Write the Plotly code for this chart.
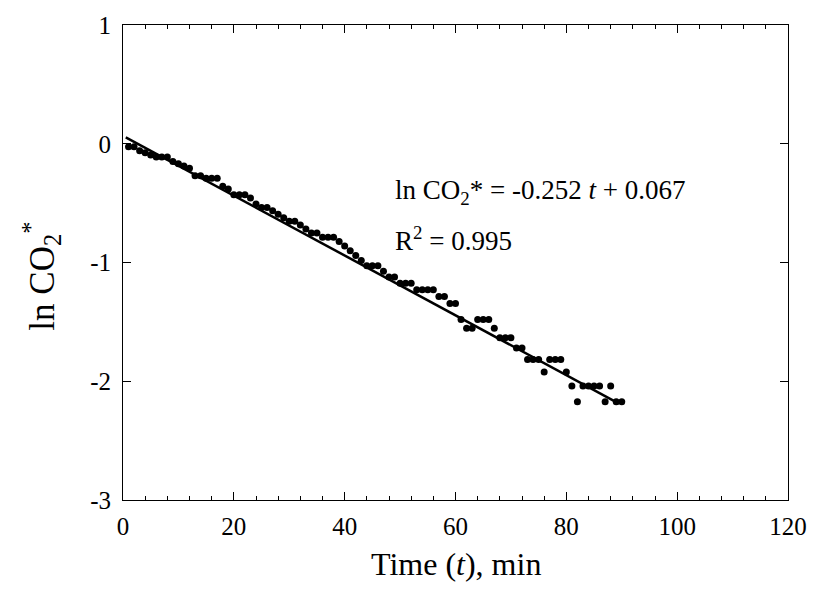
import plotly.graph_objects as go

# ---- data ----
time_min = list(range(1, 91))
ln_co2 = [
    -0.025, -0.025, -0.059, -0.076, -0.094, -0.112, -0.112, -0.112, -0.149, -0.168,
    -0.187, -0.207, -0.269, -0.269, -0.290, -0.290, -0.290, -0.358, -0.381, -0.430,
    -0.430, -0.430, -0.456, -0.508, -0.536, -0.536, -0.564, -0.593, -0.623, -0.653,
    -0.653, -0.685, -0.718, -0.752, -0.752, -0.787, -0.787, -0.787, -0.823, -0.861,
    -0.900, -0.941, -0.983, -1.028, -1.028, -1.028, -1.074, -1.123, -1.123, -1.175,
    -1.175, -1.175, -1.229, -1.229, -1.229, -1.229, -1.286, -1.286, -1.346, -1.346,
    -1.480, -1.554, -1.554, -1.480, -1.480, -1.480, -1.554, -1.634, -1.634, -1.634,
    -1.721, -1.721, -1.816, -1.816, -1.816, -1.922, -1.816, -1.816, -1.816, -1.922,
    -2.039, -2.173, -2.039, -2.039, -2.039, -2.039, -2.173, -2.039, -2.173, -2.173,
]
fit_t = [0.5, 89.5]
fit_y = [0.054, -2.188]

x_ticks = [0, 20, 40, 60, 80, 100, 120]
y_ticks = [-3, -2, -1, 0, 1]

FONT = "Liberation Serif, Times New Roman, serif"

fig = go.Figure()
fig.add_trace(go.Scatter(
    x=time_min, y=ln_co2, mode="markers",
    marker=dict(color="black", size=7, line=dict(width=0)),
    showlegend=False,
))
fig.add_trace(go.Scatter(
    x=fit_t, y=fit_y, mode="lines",
    line=dict(color="black", width=2.5),
    showlegend=False,
))

fig.update_layout(
    width=819, height=604,
    margin=dict(l=123, r=21, t=17, b=104),
    paper_bgcolor="white", plot_bgcolor="white",
    font=dict(family=FONT, color="black", size=20),
    xaxis=dict(
        range=[0, 120], tickvals=x_ticks, ticktext=[str(v) for v in x_ticks],
        ticks="inside", ticklen=8, tickwidth=1, tickcolor="black",
        showline=True, linecolor="black", linewidth=1, mirror="ticks",
        showgrid=False, zeroline=False,
        tickfont=dict(family=FONT, size=25),
        ticklabelstandoff=4,
        minor=dict(dtick=4, tick0=0, ticks="inside", ticklen=4, tickcolor="black", showgrid=False),
    ),
    yaxis=dict(
        range=[-3, 1], tickvals=y_ticks, ticktext=[str(v) for v in y_ticks],
        ticks="inside", ticklen=8, tickwidth=1, tickcolor="black",
        showline=True, linecolor="black", linewidth=1, mirror="ticks",
        showgrid=False, zeroline=False,
        tickfont=dict(family=FONT, size=25),
        ticklabelstandoff=6,
    ),
    annotations=[
        dict(text="Time (<i>t</i>), min", xref="paper", yref="paper",
             x=0.5, y=-0.135, xanchor="center", yanchor="middle", showarrow=False,
             font=dict(family=FONT, size=32)),
        dict(text="ln CO<sub>2</sub><sup>*</sup>", xref="paper", yref="paper",
             x=-0.122, y=0.472, xanchor="center", yanchor="middle", showarrow=False,
             textangle=-90, font=dict(family=FONT, size=35)),
        dict(text="ln CO<sub>2</sub>* = -0.252 <i>t</i> + 0.067", xref="x", yref="y",
             x=48.7, y=-0.41, xanchor="left", yanchor="middle", showarrow=False,
             font=dict(family=FONT, size=27)),
        dict(text="R<sup>2</sup> = 0.995", xref="x", yref="y",
             x=48.7, y=-0.80, xanchor="left", yanchor="middle", showarrow=False,
             font=dict(family=FONT, size=27)),
    ],
)

fig.write_html("out.html")
